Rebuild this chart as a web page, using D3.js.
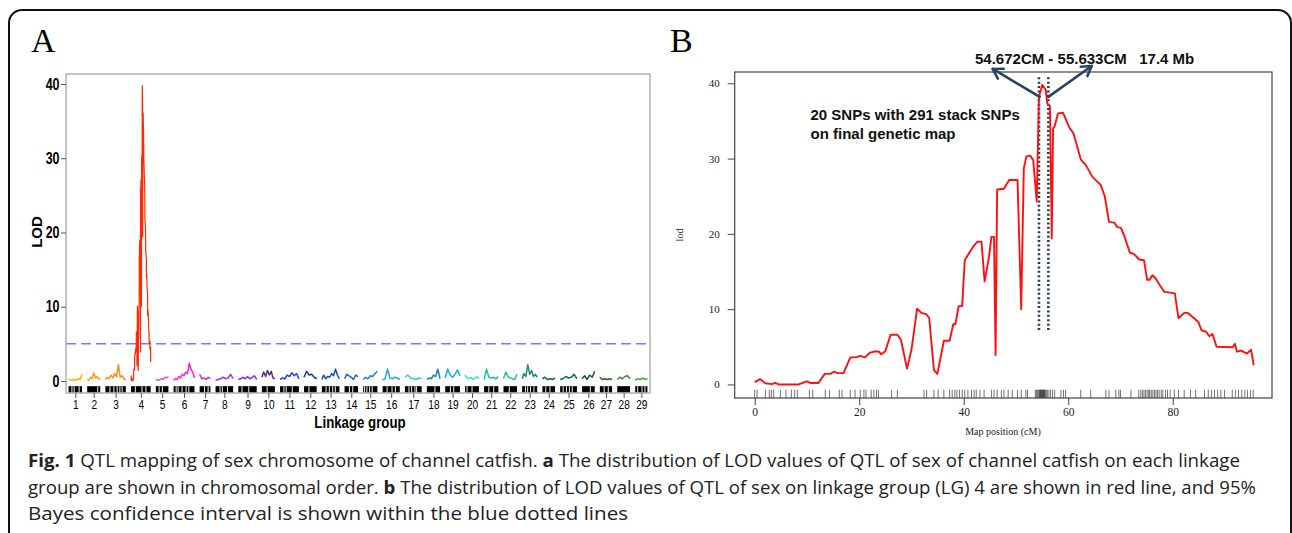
<!DOCTYPE html>
<html><head><meta charset="utf-8">
<script src="https://cdn.jsdelivr.net/npm/d3@7"></script>
<style>body{margin:0;background:#fff;} svg{display:block;}</style>
</head><body>
<svg id="fig" width="1292" height="533"></svg>
<script>
// ---------- DATA ----------
// Panel A: linkage groups
const lgNames = ["1","2","3","4","5","6","7","8","9","10","11","12","13","14","15","16","17","18","19","20","21","22","23","24","25","26","27","28","29"];
const lgLengths = [65,63,99,95,61,101,52,85,89,63,91,61,85,65,69,83,81,64,71,67,69,65,73,61,81,61,59,62,59];
const lgColors = ["#ffb000","#ffa010","#ff8a1a","#ff2a00","#e060a8","#ff20d0","#cc22ee","#b030e0","#7a30ff","#5a2a90",
  "#1a40ff","#1a3a90","#1a50b8","#2060b8","#2a78d8","#30a0e8","#40c0f0","#2080b0","#20a8f0","#30e8d8",
  "#10c8a8","#20c890","#209060","#106848","#107040","#106020","#206828","#408a30","#40b040"];
// LOD profiles (LG4 is the detailed profile of panel B)
const lodLG = [
  [0.3,0.1,0.1,0.2,0.1,0.3,0.2,0.9],
  [0.2,0.1,0.5,0.3,1.1,0.4,0.6,0.3,0.2],
  [0.2,0.5,0.3,0.8,0.4,1.0,0.6,2.2,0.5,0.7,0.3,0.2],
  null,
  [0.1,0.2,0.1,0.3,0.2,0.5,0.4,0.6],
  [0.1,0.3,0.2,0.6,0.4,0.9,0.7,1.2,1.0,2.4,1.6,1.2,0.4],
  [0.9,0.3,0.4,0.2,0.5,0.3],
  [0.1,0.2,0.3,0.5,0.3,0.4,0.9,0.3],
  [0.2,0.3,0.5,0.3,0.6,0.3,0.5,0.7,0.2],
  [0.5,1.2,0.6,1.4,0.8,1.3,0.4,0.3],
  [0.2,0.4,0.3,0.8,0.6,1.1,0.7,1.0,0.3],
  [0.5,1.3,0.8,0.9,0.5,0.3],
  [0.2,0.8,0.3,0.6,0.5,1.0,0.7,1.6,0.8,0.3],
  [0.3,0.9,0.7,0.5,0.2,0.8,0.6],
  [0.2,0.5,0.3,0.7,0.6,1.0,1.3],
  [0.1,0.3,1.6,0.4,0.3,0.5,0.4,0.2],
  [0.5,0.8,0.4,0.3,0.2,0.4,0.3],
  [0.2,0.4,0.3,0.8,0.6,1.6,0.3],
  [0.4,1.6,0.8,0.5,0.9,1.5,0.7],
  [0.8,0.4,0.3,0.5,0.2,0.4,0.6,0.3],
  [0.2,1.6,0.5,0.4,0.5,0.3,0.6],
  [0.3,1.2,0.6,0.4,0.3,0.2,0.9],
  [0.3,1.0,0.6,2.2,0.9,1.4,0.6,0.9,0.5],
  [0.3,0.5,0.2,0.3,0.2,0.4],
  [0.2,0.3,0.6,0.4,0.5,0.9,0.3],
  [0.3,0.7,0.2,0.8,0.5,1.3],
  [0.5,0.2,0.3,0.2,0.3,0.2],
  [0.2,0.5,0.3,0.6,0.7,0.3],
  [0.1,0.3,0.2,0.4,0.2,0.3]
];
// gaps in the marker rug (cM within each LG)
const rugGapsA = [[16,27,51],[51],[22,41,57,70,81],[21,53,72],[16,32],[12.5,22,41,60.6,73.5],[23.5,41],[21.6,32.7,58],[18,50.6],[25.5],
  [18.7,30,59],[23.6],[20.6,36.5,52.4,65.4],[23.5,39.5],[6.7,17.8,30.8,43.8],[21.6,45.6,62],[19.7,32.2,48.6,56.3],[39],[25,41],[9.6,33.7],
  [22.6,46.6],[28],[16,26.5,40.5,57],[16.3,36.5],[14.4,30.4,44.7,58.7],[40],[20.7,40.8],[],[12,32.7,47]];
const lgGap = 25;
const lodThreshold = 5.0;
const yTicksA = [0,10,20,30,40];

// Panel B: LG4
const posB = [0,1.07,2.0,3.3,3.9,4.6,8.4,10.0,10.6,12.2,13.4,14.5,15.1,15.9,17.0,18.3,19.4,20.2,21.1,22.0,23.0,23.8,24.2,25.0,
  26.0,27.3,28.0,29.15,30.0,31.07,31.9,32.9,33.4,34.3,34.96,36.2,37.3,38.0,38.4,39.04,39.7,40.2,40.9,41.8,42.6,43.4,44.0,44.85,
  45.3,45.8,46.1,46.4,47.7,48.7,50.3,51.0,51.5,52.0,52.7,53.3,53.97,54.4,55.05,55.7,56.0,56.5,56.85,57.1,57.4,58.05,59.0,60.15,
  61.0,62.4,63.4,64.6,66.2,67.0,67.8,68.8,69.4,70.1,70.7,71.8,72.6,73.6,74.5,75.1,75.6,76.1,76.7,77.7,78.4,79.5,80.4,81.1,82.2,
  82.9,84.1,84.9,85.5,86.4,87.0,87.6,88.4,91.5,91.9,92.3,93.1,94.2,95.0,95.5];
const lodB = [0.3,0.7,0.15,0.05,0.2,0.0,0.0,0.4,0.2,0.2,1.4,1.4,1.7,1.5,1.5,3.6,3.6,3.8,3.6,4.2,4.4,4.35,4.0,4.4,
  6.6,6.6,5.9,2.1,4.6,10.05,9.5,9.3,8.8,1.9,1.4,5.8,5.8,8.0,8.0,10.4,10.4,16.5,17.3,18.3,18.95,18.95,13.7,17.0,
  19.6,19.6,3.9,25.9,26.0,27.15,27.15,10.0,28.7,30.3,30.4,29.8,24.3,38.2,39.8,39.1,37.3,37.0,19.4,34.0,34.3,36.0,36.1,34.2,
  33.35,29.9,29.1,27.6,26.5,25.0,21.6,21.5,20.9,20.8,19.8,17.5,17.3,16.6,16.5,13.9,13.9,14.5,14.1,13.0,12.3,12.2,12.1,8.8,9.5,
  9.5,8.8,8.3,7.2,7.0,6.4,6.7,5.0,4.95,5.4,4.35,4.5,4.1,4.6,2.55];
const markersB = [0,0.45,2.04,2.8,3.19,3.63,4.91,5.99,7.01,7.65,8.16,10.46,11.1,13.5,14.3,16.2,16.7,18.3,19.2,20.2,
  20.9,21.3,22.3,22.8,23.3,23.7,26.2,27.3,32.4,32.9,34.3,35.1,36.2,37.3,37.8,38.3,38.7,39.2,39.7,40.2,40.8,41.5,42.0,42.4,43.1,43.9,
  45.3,45.8,46.4,47.2,47.7,48.5,49.3,50.3,51.0,51.9,52.2,
  53.7,53.9,54.1,54.3,54.5,54.6,54.7,54.8,54.9,55.0,55.1,55.2,55.3,55.4,55.5,55.6,55.8,56.0,56.3,56.6,57.0,57.4,
  58.6,59.1,59.5,62.4,64.3,67.2,67.8,69.1,69.7,70.0,72.0,
  73.5,73.9,74.2,74.5,74.8,75.1,75.4,75.6,75.9,76.2,76.5,76.8,77.1,77.4,77.8,78.1,78.6,79.0,79.5,80.3,
  81.1,82.2,83.4,84.4,86.1,86.8,87.4,88.0,88.6,89.2,89.9,91.4,92.0,92.6,93.2,93.8,94.3,94.9,95.4];
const ciB = [54.4, 56.2];
const xTicksB = [0,20,40,60,80];
const yTicksB = [0,10,20,30,40];

// ---------- DRAW ----------
const svg = d3.select("#fig");
const serif = "'Liberation Serif','Times New Roman',serif";
const sans = "'Liberation Sans',Arial,sans-serif";
const NARROW = 0.78; // horizontal squeeze to mimic Arial Narrow

// outer rounded border
svg.append("rect").attr("x",9).attr("y",10).attr("width",1282).attr("height",620).attr("rx",13)
  .attr("fill","none").attr("stroke","#111").attr("stroke-width",2);

// panel letters
svg.append("text").attr("x",31).attr("y",52).attr("font-family",serif).attr("font-size",34).text("A");
svg.append("text").attr("x",670).attr("y",52).attr("font-family",serif).attr("font-size",34).text("B");

// ===== Panel A =====
const offsets = [];
let acc = 0;
lgLengths.forEach((L,i)=>{ offsets.push(acc); acc += L + lgGap; });
const totalA = acc - lgGap;
const xA = d3.scaleLinear().domain([-lgGap/2, totalA + lgGap/2]).range([66, 650]);
const yA = d3.scaleLinear().domain([-1.62, 41.35]).range([393, 74]);

const gA = svg.append("g");
// threshold
gA.append("line").attr("x1",xA.range()[0]).attr("x2",xA.range()[1]).attr("y1",yA(lodThreshold)).attr("y2",yA(lodThreshold))
  .attr("stroke","#7878ff").attr("stroke-width",1.5).attr("stroke-dasharray","10,5");

// rug
lgLengths.forEach((L,i)=>{
  gA.append("rect").attr("x",xA(offsets[i])).attr("y",yA(-0.7)).attr("width",xA(offsets[i]+L)-xA(offsets[i]))
    .attr("height",yA(-1.62)-yA(-0.7)).attr("fill","#000");
  rugGapsA[i].forEach(p=>{
    gA.append("line").attr("x1",xA(offsets[i]+p)).attr("x2",xA(offsets[i]+p)).attr("y1",yA(-0.7)).attr("y2",yA(-1.62))
      .attr("stroke","#ddd").attr("stroke-width",1.1);
  });
});

// LOD curves
const lineA = d3.line().x(d=>d[0]).y(d=>d[1]);
lgLengths.forEach((L,i)=>{
  let pts;
  if (lodLG[i] === null) {
    pts = posB.map((p,k)=>[xA(offsets[i] + p*L/95.5), yA(lodB[k])]);
  } else {
    const v = lodLG[i];
    pts = v.map((lod,k)=>[xA(offsets[i] + L*k/(v.length-1)), yA(lod)]);
  }
  gA.append("path").attr("d",lineA(pts)).attr("fill","none").attr("stroke",lgColors[i])
    .attr("stroke-width", i===3 ? 1.2 : 1.5).attr("stroke-linejoin","round");
});

// frame
gA.append("rect").attr("x",66).attr("y",74).attr("width",584).attr("height",319)
  .attr("fill","none").attr("stroke","#b4b4b4").attr("stroke-width",1.6);

// y axis
const yAxA = gA.append("g").attr("transform","translate(66,0)")
  .call(d3.axisLeft(yA).tickValues(yTicksA).tickSize(5).tickPadding(0));
yAxA.select(".domain").remove();
yAxA.selectAll("line").attr("stroke","#555");
yAxA.selectAll("text").attr("font-family",sans).attr("font-weight","bold").attr("font-size",16).attr("fill","#000")
  .attr("x",-6.5/NARROW).attr("transform",`scale(${NARROW},1)`);

// x axis
const mids = lgLengths.map((L,i)=>offsets[i]+L/2);
const xAxA = gA.append("g").attr("transform","translate(0,393)")
  .call(d3.axisBottom(xA).tickValues(mids).tickFormat((d,i)=>lgNames[i]).tickSize(5).tickPadding(2));
xAxA.select(".domain").remove();
xAxA.selectAll("line").attr("stroke","#555");
xAxA.selectAll("text").attr("font-family",sans).attr("font-size",13).attr("fill","#000")
  .attr("transform",`scale(${NARROW},1)`);

gA.append("text").attr("transform",`translate(360,428) scale(${NARROW},1)`).attr("text-anchor","middle").attr("font-family",sans)
  .attr("font-weight","bold").attr("font-size",17).text("Linkage group");
gA.append("text").attr("transform","translate(42,232) rotate(-90)").attr("text-anchor","middle").attr("font-family",sans)
  .attr("font-weight","bold").attr("font-size",15).text("LOD");

// ===== Panel B =====
const xB = d3.scaleLinear().domain([-3.83, 99.0]).range([734.7, 1272]);
const yB = d3.scaleLinear().domain([-1.8, 41.5]).range([398, 72]);
const gB = svg.append("g");

// rug
gB.selectAll("line.rug").data(markersB).enter().append("line").attr("class","rug")
  .attr("x1",d=>xB(d)).attr("x2",d=>xB(d)).attr("y1",yB(-1.8)).attr("y2",yB(-0.7))
  .attr("stroke","#222").attr("stroke-width",0.8).attr("opacity",0.8);

// CI dotted lines
ciB.forEach(c=>{
  gB.append("line").attr("x1",xB(c)).attr("x2",xB(c)).attr("y1",yB(40.8)).attr("y2",yB(7.2))
    .attr("stroke","#1f3a62").attr("stroke-width",2.6).attr("stroke-dasharray","2,2.4");
});

// LOD line
gB.append("path").attr("d",d3.line().x((d,i)=>xB(posB[i])).y(d=>yB(d))(lodB))
  .attr("fill","none").attr("stroke","#ff1010").attr("stroke-width",1.9).attr("stroke-linejoin","round");

// frame
gB.append("rect").attr("x",734.7).attr("y",72).attr("width",1272-734.7).attr("height",326)
  .attr("fill","none").attr("stroke","#444").attr("stroke-width",1.2);

const yAxB = gB.append("g").attr("transform","translate(734.7,0)")
  .call(d3.axisLeft(yB).tickValues(yTicksB).tickSize(7).tickPadding(8));
yAxB.select(".domain").remove();
yAxB.selectAll("line").attr("stroke","#444");
yAxB.selectAll("text").attr("font-family",serif).attr("font-size",11).attr("fill","#222");

const xAxB = gB.append("g").attr("transform","translate(0,398)")
  .call(d3.axisBottom(xB).tickValues(xTicksB).tickSize(7).tickPadding(3));
xAxB.select(".domain").remove();
xAxB.selectAll("line").attr("stroke","#444");
xAxB.selectAll("text").attr("font-family",serif).attr("font-size",11.5).attr("fill","#222");

gB.append("text").attr("x",1003).attr("y",435).attr("text-anchor","middle").attr("font-family",serif)
  .attr("font-size",10).attr("fill","#222").text("Map position (cM)");
gB.append("text").attr("transform","translate(683,235) rotate(-90)").attr("text-anchor","middle").attr("font-family",serif)
  .attr("font-size",10).attr("fill","#222").text("lod");

// annotations
const navy = "#2b4263";
function arrow(x1,y1,x2,y2){
  gB.append("line").attr("x1",x1).attr("y1",y1).attr("x2",x2).attr("y2",y2)
    .attr("stroke",navy).attr("stroke-width",2.6).attr("stroke-linecap","round");
  const a = Math.atan2(y2-y1,x2-x1), L = 11, s = 0.55;
  const p = d3.path();
  p.moveTo(x2 - L*Math.cos(a-s), y2 - L*Math.sin(a-s));
  p.lineTo(x2,y2);
  p.lineTo(x2 - L*Math.cos(a+s), y2 - L*Math.sin(a+s));
  gB.append("path").attr("d",p.toString()).attr("fill","none").attr("stroke",navy).attr("stroke-width",2.6)
    .attr("stroke-linecap","round").attr("stroke-linejoin","round");
}
arrow(xB(54.55), yB(38.2), xB(45.55), yB(41.9));
arrow(xB(56.2), yB(38.2), xB(64.5), yB(42.3));

gB.append("text").attr("x",975).attr("y",64).attr("font-family",sans).attr("font-weight","bold").attr("font-size",15)
  .attr("fill","#111").style("white-space","pre").text("54.672CM - 55.633CM   17.4 Mb");
gB.append("text").attr("x",810.5).attr("y",120).attr("font-family",sans).attr("font-weight","bold").attr("font-size",15)
  .attr("fill","#111").text("20 SNPs with 291 stack SNPs");
gB.append("text").attr("x",810.5).attr("y",139).attr("font-family",sans).attr("font-weight","bold").attr("font-size",15)
  .attr("fill","#111").text("on final genetic map");

// ===== Caption =====
const capFont = "'Open Sans','Noto Sans',sans-serif";
const capLines = [
  [["Fig. 1",true],[" QTL mapping of sex chromosome of channel catfish. ",false],["a",true],[" The distribution of LOD values of QTL of sex of channel catfish on each linkage",false]],
  [["group are shown in chromosomal order. ",false],["b",true],[" The distribution of LOD values of QTL of sex on linkage group (LG) 4 are shown in red line, and 95%",false]],
  [["Bayes confidence interval is shown within the blue dotted lines",false]]
];
const capY = [467, 494, 520];
const capW = [1212, 1228, 600];
capLines.forEach((segs,li)=>{
  const t = svg.append("text").attr("x",28).attr("y",capY[li]).attr("font-family",capFont).attr("font-size",17.5)
    .attr("fill","#222").style("white-space","pre").attr("textLength",capW[li]).attr("lengthAdjust","spacingAndGlyphs");
  segs.forEach(s=>{ t.append("tspan").attr("font-weight", s[1] ? "bold" : "normal").text(s[0]); });
});
</script>
</body></html>
